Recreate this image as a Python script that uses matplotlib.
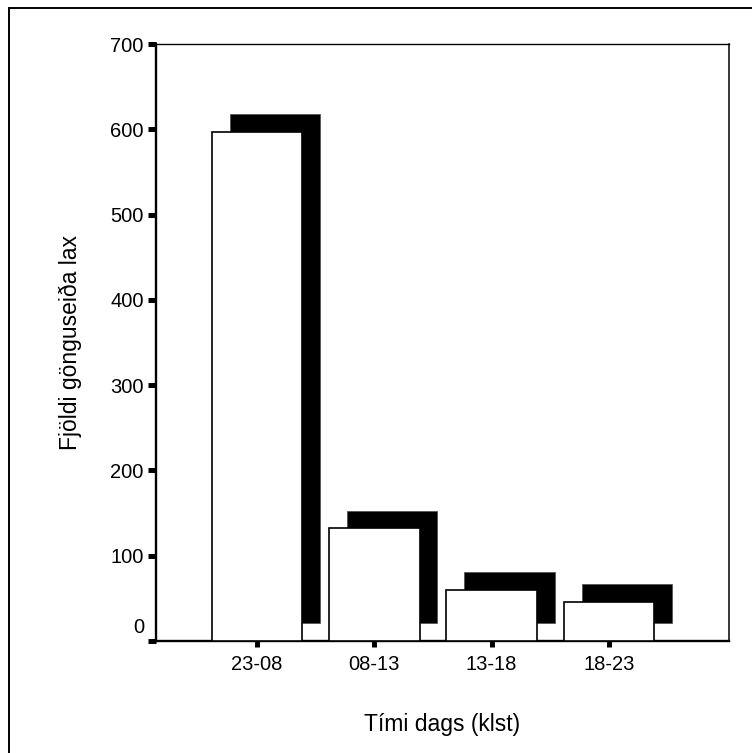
import numpy as np
import matplotlib
matplotlib.use("Agg")
import matplotlib.pyplot as plt
from matplotlib.patches import Rectangle

# Fjöldi gönguseiða eftir tíma dags
categories = ["23-08", "08-13", "13-18", "18-23"]
counts = [597, 132, 60, 46]
y_ticks = [0, 100, 200, 300, 400, 500, 600, 700]

plt.rcParams['font.family'] = ['Liberation Sans', 'DejaVu Sans']

fig = plt.figure(figsize=(7.52, 7.53), dpi=100)
ax = fig.add_axes([0.2074, 0.1487, 0.762, 0.7928])

x = np.arange(len(categories))
width = 0.772
shadow_dx = 0.152
shadow_dy = 21

# skuggi fyrst, svo hvítu súlurnar ofan á
ax.bar(x + shadow_dx, counts, width, bottom=shadow_dy, color="black",
       edgecolor="#555555", linewidth=0.6, zorder=2)
ax.bar(x, counts, width, color="white", edgecolor="black",
       linewidth=1.2, zorder=3)

ax.set_xlim(-0.861, 4.023)
ax.set_ylim(0, 700)

ax.set_xticks(x)
ax.set_xticklabels(categories, fontsize=14.5)
ax.set_yticks(y_ticks)
ax.set_yticklabels([str(v) if v != 0 else "" for v in y_ticks], fontsize=14.5)

ax.tick_params(axis="y", direction="out", length=5.8, width=3.6, pad=3)
ax.tick_params(axis="x", direction="out", length=4, width=3.6, pad=6)

# 0 merkið er aðeins fyrir ofan ásinn
ax.annotate("0", xy=(0, 0), xycoords=("axes fraction", "data"),
            xytext=(-8, 3), textcoords="offset points",
            ha="right", va="bottom", fontsize=14.5)

ax.spines["left"].set_linewidth(1.7)
ax.spines["bottom"].set_linewidth(1.7)
ax.spines["top"].set_linewidth(1.0)
ax.spines["right"].set_linewidth(1.1)

ax.set_ylabel("Fjöldi gönguseiða lax", fontsize=16.5, labelpad=20)
ax.set_xlabel("Tími dags (klst)", fontsize=16.5, labelpad=28)

# rammi utan um allt
fig.add_artist(Rectangle((8.5 / 752, -0.1), 1.2, 1.1 - 8.5 / 753,
                         transform=fig.transFigure, fill=False,
                         edgecolor="black", linewidth=1.4))

fig.savefig("out.png", dpi=100)
